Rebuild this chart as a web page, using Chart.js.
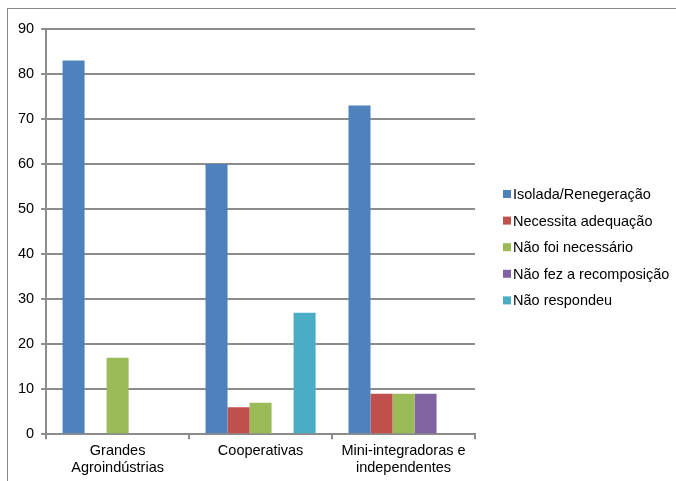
<!DOCTYPE html>
<html>
<head>
<meta charset="utf-8">
<script src="https://cdn.jsdelivr.net/npm/chart.js@4/dist/chart.umd.min.js"></script>
<style>
  html,body{margin:0;padding:0;background:#fff;overflow:hidden;}
  #frame{position:absolute;left:7px;top:8px;width:720px;height:520px;border:1px solid #8a8a8a;box-sizing:border-box;}
  #chart{position:absolute;left:0;top:0;}
</style>
</head>
<body>
<div id="frame"></div>
<canvas id="chart" width="676" height="481"></canvas>
<script>
// categorias e séries
const categorias = [['Grandes','Agroindústrias'], 'Cooperativas', ['Mini-integradoras e','independentes']];
const isolada      = [83, 60, 73];
const necessita    = [0, 6, 9];
const naoNecessario = [17, 7, 9];
const naoFez       = [0, 0, 9];
const naoRespondeu = [0, 27, 0];

const COLORS = {
  azul:'#4F81BD', vermelho:'#C0504D', verde:'#9BBB59', roxo:'#8064A2', ciano:'#4BACC6',
  grid:'#8C8C8C', text:'#000'
};
const FONT = '"Liberation Sans", Arial, sans-serif';

function serie(label, data, color){
  return { label, data, backgroundColor: color, borderWidth:0, barPercentage:1, categoryPercentage:0.77 };
}

// legenda à direita, desenhada no canvas a partir dos datasets
const legendaDireita = {
  id:'legendaDireita',
  afterDraw(chart){
    const ctx = chart.ctx;
    const x = 503, y0 = 194, step = 26.6;
    ctx.save();
    ctx.font = '14.5px ' + FONT;
    ctx.textBaseline = 'middle';
    chart.data.datasets.forEach((ds, i)=>{
      const y = y0 + i*step;
      ctx.fillStyle = ds.backgroundColor;
      ctx.fillRect(x, y-4, 8, 8);
      ctx.fillStyle = COLORS.text;
      ctx.fillText(ds.label, x+10, y+1);
    });
    ctx.restore();
  }
};

new Chart(document.getElementById('chart'), {
  type:'bar',
  data:{
    labels: categorias,
    datasets:[
      serie('Isolada/Renegeração', isolada, COLORS.azul),
      serie('Necessita adequação', necessita, COLORS.vermelho),
      serie('Não foi necessário', naoNecessario, COLORS.verde),
      serie('Não fez a recomposição', naoFez, COLORS.roxo),
      serie('Não respondeu', naoRespondeu, COLORS.ciano)
    ]
  },
  plugins:[legendaDireita],
  options:{
    responsive:false, animation:false,
    layout:{ padding:{ left:11, top:29, right:201, bottom:1 } },
    plugins:{ tooltip:{ enabled:false }, legend:{ display:false } },
    scales:{
      x:{
        grid:{ display:true, drawOnChartArea:false, drawTicks:true, tickLength:5, color: COLORS.grid, lineWidth:2, offset:true },
        border:{ color: COLORS.grid, width:2 },
        ticks:{ color: COLORS.text, padding:3, maxRotation:0, font:{ family:FONT, size:14.5 } }
      },
      y:{
        min:0, max:90,
        grid:{ color: COLORS.grid, lineWidth:2, tickLength:5 },
        border:{ color: COLORS.grid, width:2 },
        ticks:{ stepSize:10, color: COLORS.text, padding:7, font:{ family:FONT, size:14.5 } }
      }
    }
  }
});
</script>
</body>
</html>
